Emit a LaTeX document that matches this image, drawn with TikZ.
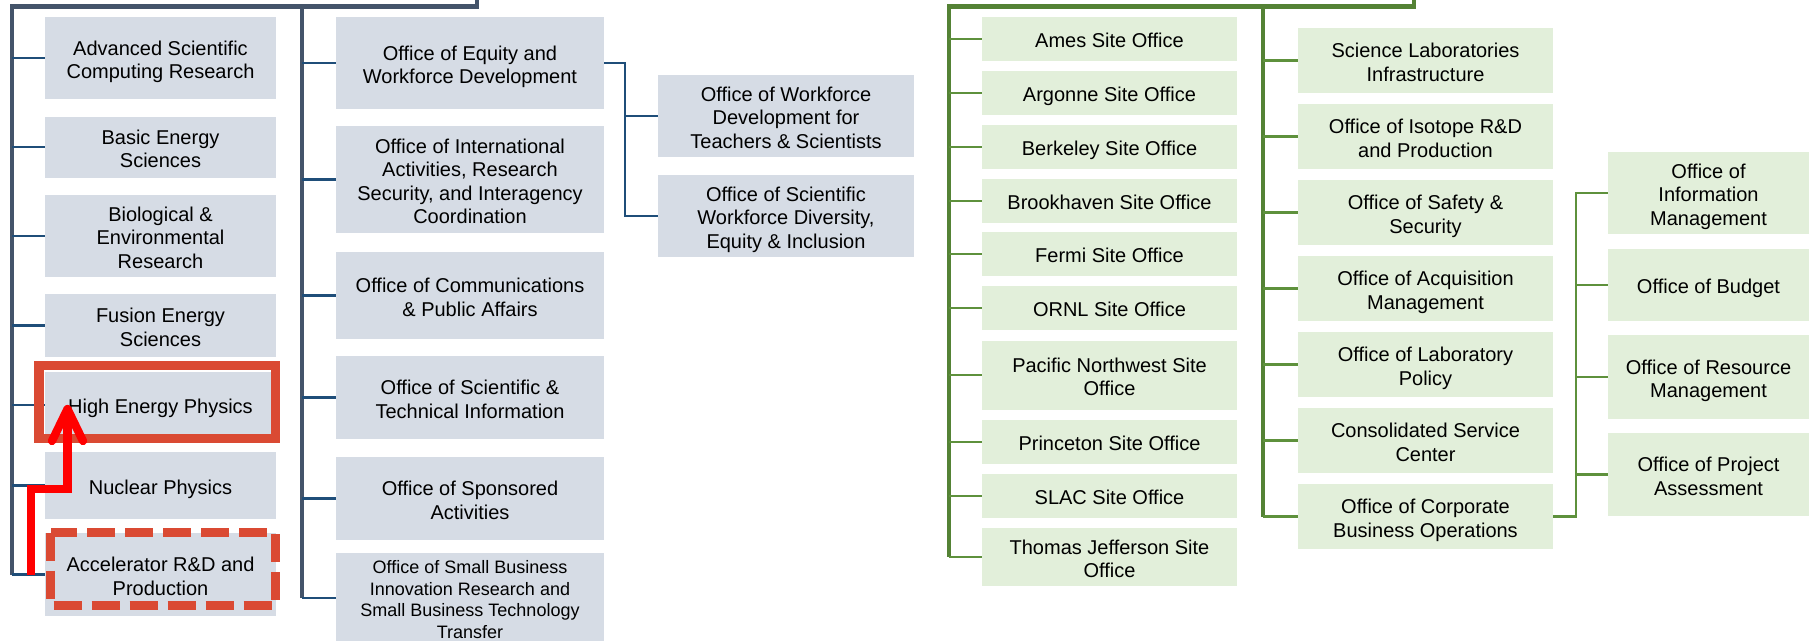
\documentclass[tikz,border=0pt]{standalone}
\usepackage{fontspec}
\setmainfont{Liberation Sans}
\definecolor{boxblue}{HTML}{D6DCE5}
\definecolor{boxgreen}{HTML}{E2EFDA}
\definecolor{spineblue}{HTML}{44546A}
\definecolor{tickblue}{HTML}{1F4E79}
\definecolor{spinegreen}{HTML}{548235}
\definecolor{tickgreen}{HTML}{5E913C}
\definecolor{hired}{HTML}{DA4A33}
\definecolor{arrred}{HTML}{FF0000}
\newcommand\tsA{\rule{0pt}{22pt}}
\newcommand\tsB{\rule{0pt}{20.3pt}}
\begin{document}
\begin{tikzpicture}[x=1pt,y=-1pt,
  box/.style={inner sep=0pt, outer sep=0pt, align=center, text=black,
    font=\fontsize{20}{23.5}\selectfont,
    execute at end node={\rule[-4.4pt]{0pt}{4.4pt}}},
  smallfont/.style={font=\fontsize{18}{21.7}\selectfont,
    execute at end node={\rule[-4pt]{0pt}{4pt}}},
  bluebox/.style={box, fill=boxblue},
  greenbox/.style={box, fill=boxgreen},
  cA/.style={bluebox, minimum width=231},
  cB/.style={bluebox, minimum width=268},
  cC/.style={bluebox, minimum width=256},
  gA/.style={greenbox, minimum width=255},
  gB/.style={greenbox, minimum width=255},
  gC/.style={greenbox, minimum width=201},
  bspine/.style={draw=spineblue, line width=4.2},
  btick/.style={draw=tickblue, line width=2.5},
  gspine/.style={draw=spinegreen, line width=4.2},
  gtick/.style={draw=tickgreen, line width=2.5},
  hilite/.style={draw=hired, line width=9.5},
  dashhilite/.style={draw=hired, line width=9, dash pattern=on 28 off 10},
  arrowline/.style={draw=arrred, line width=8.3}
]
\useasboundingbox (0,0) rectangle (1815,640);
\clip (0,0) rectangle (1815,640);

% ---------- blue column 1 ----------
\node[cA, minimum height=82] (ascr) at (160.5,58) {\tsA Advanced Scientific\\Computing Research};
\node[cA, minimum height=61] (bes) at (160.5,147) {\tsA Basic Energy\\Sciences};
\node[cA, minimum height=82] (ber) at (160.5,236) {\tsA Biological \&\\Environmental\\Research};
\node[cA, minimum height=63] (fes) at (160.5,325.5) {\tsA Fusion Energy\\Sciences};
\node[cA, minimum height=66] (hep) at (160.5,405) {\tsA High Energy Physics};
\node[cA, minimum height=67] (np) at (160.5,485.5) {\tsA Nuclear Physics};
\node[cA, minimum height=83] (ardap) at (160.5,574.5) {\tsA Accelerator R\&D and\\Production};

% ---------- blue column 2 ----------
\node[cB, minimum height=92] (equity) at (470,63) {\tsA Office of Equity and\\Workforce Development};
\node[cB, minimum height=107] (intl) at (470,179.5) {\tsA Office of International\\Activities, Research\\Security, and Interagency\\Coordination};
\node[cB, minimum height=87] (comm) at (470,295.5) {\tsA Office of Communications\\\& Public Affairs};
\node[cB, minimum height=83] (scitech) at (470,397.5) {\tsA Office of Scientific \&\\Technical Information};
\node[cB, minimum height=83] (sponsored) at (470,498.5) {\tsA Office of Sponsored\\Activities};
\node[cB, smallfont, minimum height=84] (smallbiz) at (470,598) {\tsB Office of Small Business\\Innovation Research and\\Small Business Technology\\Transfer};

% ---------- blue sub-column ----------
\node[cC, minimum height=82] (teachers) at (786,116) {\tsA Office of Workforce\\Development for\\Teachers \& Scientists};
\node[cC, minimum height=82] (diversity) at (786,216) {\tsA Office of Scientific\\Workforce Diversity,\\Equity \& Inclusion};

% ---------- green column 1 ----------
\node[gA, minimum height=44] (ames) at (1109.5,39) {\tsA Ames Site Office};
\node[gA, minimum height=44] (argonne) at (1109.5,93) {\tsA Argonne Site Office};
\node[gA, minimum height=44] (berkeley) at (1109.5,147) {\tsA Berkeley Site Office};
\node[gA, minimum height=44] (brookhaven) at (1109.5,201) {\tsA Brookhaven Site Office};
\node[gA, minimum height=44] (fermi) at (1109.5,254) {\tsA Fermi Site Office};
\node[gA, minimum height=44] (ornl) at (1109.5,308) {\tsA ORNL Site Office};
\node[gA, minimum height=69] (pnnl) at (1109.5,375) {\tsA Pacific Northwest Site\\Office};
\node[gA, minimum height=44] (princeton) at (1109.5,442) {\tsA Princeton Site Office};
\node[gA, minimum height=44] (slac) at (1109.5,496) {\tsA SLAC Site Office};
\node[gA, minimum height=58] (tjnaf) at (1109.5,557) {\tsA Thomas Jefferson Site\\Office};

% ---------- green column 2 ----------
\node[gB, minimum height=65] (slinfra) at (1425.5,60.5) {\tsA Science Laboratories\\Infrastructure};
\node[gB, minimum height=65] (isotope) at (1425.5,136.5) {\tsA Office of Isotope R\&D\\and Production};
\node[gB, minimum height=65] (safety) at (1425.5,212.5) {\tsA Office of Safety \&\\Security};
\node[gB, minimum height=65] (acq) at (1425.5,288.5) {\tsA Office of Acquisition\\Management};
\node[gB, minimum height=65] (labpol) at (1425.5,364.5) {\tsA Office of Laboratory\\Policy};
\node[gB, minimum height=65] (csc) at (1425.5,440.5) {\tsA Consolidated Service\\Center};
\node[gB, minimum height=65] (corp) at (1425.5,516.5) {\tsA Office of Corporate\\Business Operations};

% ---------- green column 3 ----------
\node[gC, minimum height=82] (infomgmt) at (1708.5,193) {\tsA Office of\\Information\\Management};
\node[gC, minimum height=72] (budget) at (1708.5,285) {\tsA Office of Budget};
\node[gC, minimum height=84] (resource) at (1708.5,377) {\tsA Office of Resource\\Management};
\node[gC, minimum height=83] (project) at (1708.5,474.5) {\tsA Office of Project\\Assessment};

% ---------- blue connectors ----------
\coordinate (btop) at (477,0);
\coordinate (b1) at (12,6.5);
\coordinate (b2) at (302,6.5);
\coordinate (e1) at (625,0);
\draw[bspine] (btop) -- (btop |- b1) -- (b1) -- (b1 |- ardap.west);
\draw[bspine] (b2) -- (b2 |- smallbiz.west);
\foreach \n in {ascr,bes,ber,fes,hep,np,ardap}
  \draw[btick] (b1 |- \n.west) -- (\n.west);
\foreach \n in {equity,intl,comm,scitech,sponsored,smallbiz}
  \draw[btick] (b2 |- \n.west) -- (\n.west);
\draw[btick] (equity.east) -- (equity.east -| e1) -- (e1 |- diversity.west) -- (diversity.west);
\draw[btick] (e1 |- teachers.west) -- (teachers.west);

% ---------- green connectors ----------
\coordinate (gtop) at (1414,0);
\coordinate (g1) at (949,6.5);
\coordinate (g2) at (1263,6.5);
\coordinate (g3) at (1576,0);
\draw[gspine] (gtop) -- (gtop |- g1) -- (g1) -- (g1 |- tjnaf.west);
\draw[gspine] (g2) -- (g2 |- corp.west);
\foreach \n in {ames,argonne,berkeley,brookhaven,fermi,ornl,pnnl,princeton,slac,tjnaf}
  \draw[gtick] (g1 |- \n.west) -- (\n.west);
\foreach \n in {slinfra,isotope,safety,acq,labpol,csc,corp}
  \draw[gtick] (g2 |- \n.west) -- (\n.west);
\draw[gtick] (corp.east) -- (corp.east -| g3) -- (g3 |- infomgmt.west) -- (infomgmt.west);
\foreach \n in {budget,resource,project}
  \draw[gtick] (g3 |- \n.west) -- (\n.west);

% ---------- highlights ----------
\draw[hilite] ([shift={(-6.2,-6.7)}]hep.north west) rectangle ([shift={(-0.3,0.3)}]hep.south east);
\draw[dashhilite] ([shift={(5.5,-0.5)}]ardap.north west) rectangle ([shift={(-0.5,-10.5)}]ardap.south east);

% ---------- red arrow ----------
\coordinate (ax) at (31,0);
\coordinate (ay) at (0,489);
\coordinate (tip) at (67.5,409);
\draw[arrowline] (ax |- ardap.west) -- (ax |- ay) -- (tip |- ay) -- (tip);
\draw[arrowline, line cap=round, line join=round] ([shift={(-15.5,32)}]tip) -- (tip) -- ([shift={(15.5,32)}]tip);
\end{tikzpicture}
\end{document}
